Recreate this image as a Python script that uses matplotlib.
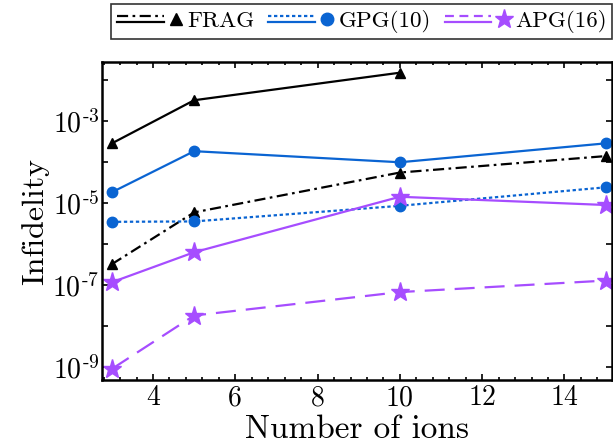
import matplotlib
matplotlib.use("Agg")
import matplotlib.pyplot as plt
import numpy as np
from matplotlib.lines import Line2D
from matplotlib.legend_handler import HandlerBase
from matplotlib.ticker import FixedLocator, FuncFormatter, MultipleLocator, NullLocator

plt.rcParams['font.family'] = 'serif'
plt.rcParams['font.serif'] = ['cmr10']
plt.rcParams['mathtext.fontset'] = 'cm'
plt.rcParams['axes.unicode_minus'] = False

# data (log10 of infidelity)
ions = [3, 5, 10, 15]
frag_solid = [-3.55, -2.50, -1.83]
frag_dashdot = [-6.49, -5.23, -4.26, -3.86]
gpg_solid = [-4.74, -3.74, -4.01, -3.55]
gpg_dotted = [-5.46, -5.45, -5.07, -4.62]
apg_solid = [-6.93, -6.20, -4.85, -5.05]
apg_dashed = [-9.04, -7.74, -7.17, -6.89]
labels = ['FRAG', 'GPG(10)', 'APG(16)']

black = 'black'
blue = '#0a64d2'
purple = '#a64dff'

fig = plt.figure(figsize=(6.13, 4.43), dpi=100)
ax = fig.add_axes([0.1664, 0.1422, 0.8316, 0.7178])

lw = 1.6
ax.plot(ions[:3], 10**np.array(frag_solid), '-', color=black, lw=lw, marker='^', ms=7.5)
ax.plot(ions, 10**np.array(frag_dashdot), '-.', color=black, lw=lw, marker='^', ms=7.5, dashes=(5, 2, 1.2, 2))
ax.plot(ions, 10**np.array(gpg_solid), '-', color=blue, lw=lw, marker='o', ms=7.5)
ax.plot(ions, 10**np.array(gpg_dotted), ':', color=blue, lw=lw, marker='o', ms=7.5, dashes=(1.5, 1.2))
ax.plot(ions, 10**np.array(apg_solid), '-', color=purple, lw=lw, marker='*', ms=14)
ax.plot(ions, 10**np.array(apg_dashed), '--', color=purple, lw=lw, marker='*', ms=14, dashes=(9, 4.5))

ax.set_yscale('log')
ax.set_xlim(2.76, 15.15)
ax.set_ylim(10**-9.31, 10**-1.57)

ax.yaxis.set_major_locator(FixedLocator([10.0**k for k in range(-9, -1)]))
ax.yaxis.set_minor_locator(NullLocator())
ax.yaxis.set_major_formatter(FuncFormatter(
    lambda v, p: r'$10^{\text{-%d}}$' % -round(np.log10(v)) if round(np.log10(v)) % 2 else ''))
ax.xaxis.set_major_locator(MultipleLocator(2))
ax.xaxis.set_minor_locator(MultipleLocator(0.4))

ax.tick_params(which='both', direction='in', top=True, right=True, labelsize=20, width=1.2)
ax.tick_params(which='major', length=4)
ax.tick_params(which='minor', length=2.5)
ax.tick_params(axis='y', pad=2)
for s in ax.spines.values():
    s.set_linewidth(1.8)

ax.set_xlabel('Number of ions', fontsize=24, labelpad=3)
ax.set_ylabel('Infidelity', fontsize=23, labelpad=2)


class PairKey:
    def __init__(self, color, style, marker, ms):
        self.color = color
        self.style = style
        self.marker = marker
        self.ms = ms


class PairHandler(HandlerBase):
    def create_artists(self, legend, orig, xdescent, ydescent, width, height, fontsize, trans):
        x0 = -xdescent
        x1 = x0 + width * 0.70
        yt = -ydescent + height * 0.72
        yb = -ydescent + height * 0.30
        top = Line2D([x0, x1], [yt, yt], color=orig.color, lw=lw, transform=trans)
        top.set_dashes(orig.style)
        bot = Line2D([x0, x1], [yb, yb], color=orig.color, lw=lw, transform=trans)
        mk = Line2D([x0 + width * 0.88], [-ydescent + height * 0.5], color=orig.color,
                    marker=orig.marker, ms=orig.ms, lw=0, transform=trans)
        return [top, bot, mk]


keys = [PairKey(black, (5, 2, 1.2, 2), '^', 8),
        PairKey(blue, (1.5, 1.2), 'o', 9),
        PairKey(purple, (4, 2.5), '*', 14)]
leg = fig.legend(keys, labels, handler_map={PairKey: PairHandler()},
                 loc='upper right', bbox_to_anchor=(0.999, 0.99), ncol=3,
                 fontsize=16.6, frameon=True, fancybox=False, edgecolor='black',
                 handlelength=2.9, handletextpad=0.15, columnspacing=0.6,
                 borderpad=0.25, borderaxespad=0)
leg.get_frame().set_linewidth(1.2)

fig.savefig('out.png', dpi=100)
